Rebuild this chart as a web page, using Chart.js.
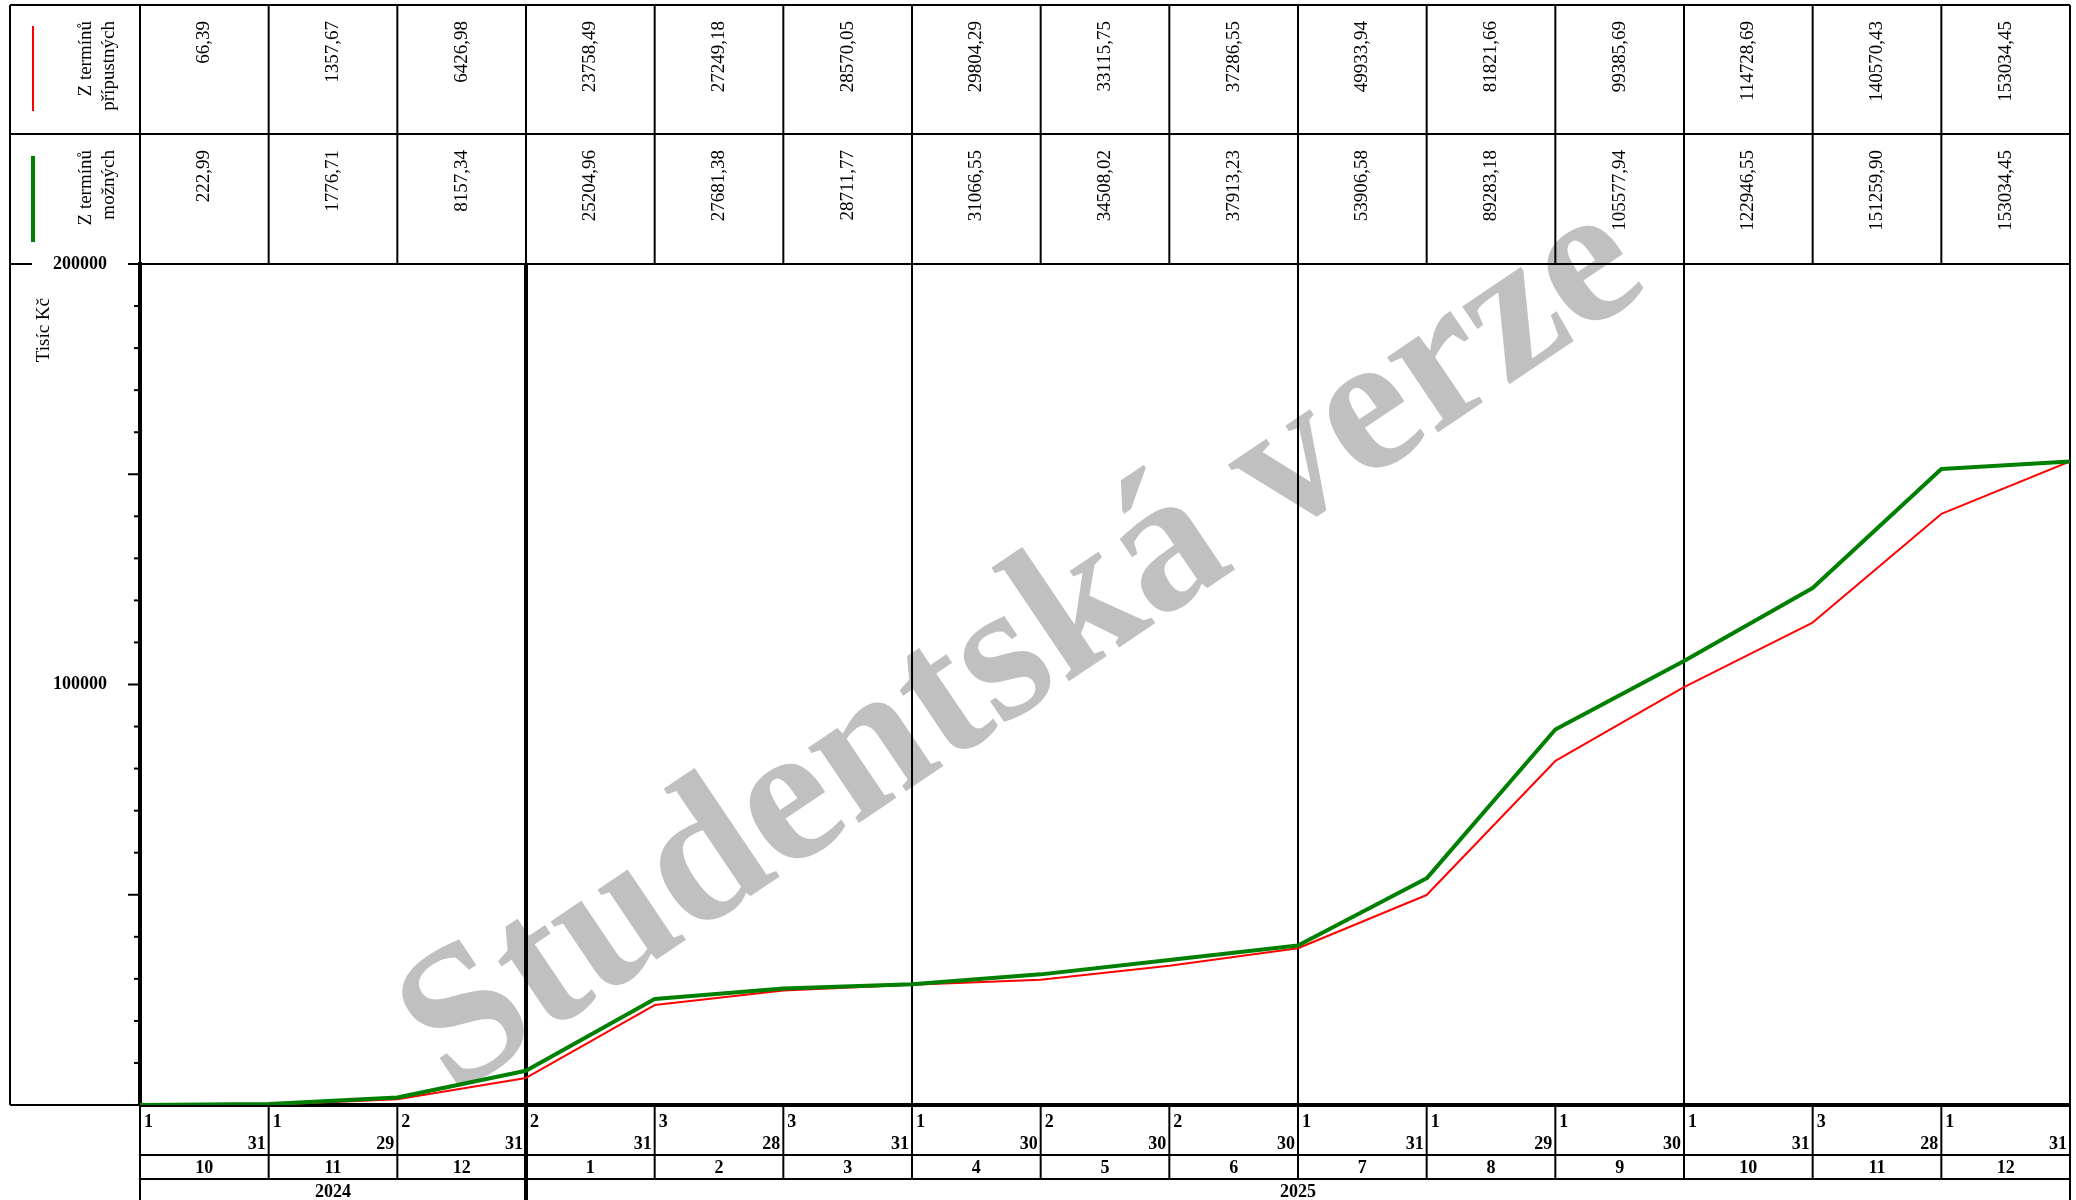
<!DOCTYPE html>
<html>
<head>
<meta charset="utf-8">
<script src="https://cdn.jsdelivr.net/npm/chart.js"></script>
<style>
  html, body { margin: 0; padding: 0; background: #fff; }
  #wrap { width: 2076px; height: 1200px; position: relative; }
</style>
</head>
<body>
<div id="wrap"><canvas id="c"></canvas></div>
<script>
// hodnoty z tabulky nad grafem (tisíc Kč, kumulativně)
const months = ['10', '11', '12', '1', '2', '3', '4', '5', '6', '7', '8', '9', '10', '11', '12'];
const startDays = ['1', '1', '2', '2', '3', '3', '1', '2', '2', '1', '1', '1', '1', '3', '1'];
const endDays = ['31', '29', '31', '31', '28', '31', '30', '30', '30', '31', '29', '30', '31', '28', '31'];
const yearLabels = ['2024', '2025'];
const yearSpans = [3, 12];
const startValue = 0;
const pripustne = [66.39, 1357.67, 6426.98, 23758.49, 27249.18, 28570.05, 29804.29, 33115.75, 37286.55, 49933.94, 81821.66, 99385.69, 114728.69, 140570.43, 153034.45];
const mozne = [222.99, 1776.71, 8157.34, 25204.96, 27681.38, 28711.77, 31066.55, 34508.02, 37913.23, 53906.58, 89283.18, 105577.94, 122946.55, 151259.90, 153034.45];
const yLabelTicks = [100000, 200000];

const SERIF = "'Liberation Serif', 'Times New Roman', serif";
const fmt = (v) => v.toFixed(2).replace('.', ',');
const toPoints = (arr) => [{ x: 0, y: startValue }].concat(arr.map((v, i) => ({ x: i + 1, y: v })));

function line(ctx, x1, y1, x2, y2, w) {
  ctx.lineWidth = w || 2;
  ctx.beginPath();
  ctx.moveTo(x1, y1);
  ctx.lineTo(x2, y2);
  ctx.stroke();
}

function vText(ctx, txt, x, yTop, font) {
  ctx.save();
  ctx.translate(x, yTop);
  ctx.rotate(-Math.PI / 2);
  ctx.font = font;
  ctx.textAlign = 'right';
  ctx.textBaseline = 'middle';
  ctx.fillText(txt, 0, 0);
  ctx.restore();
}

const TOP = 5, SPLIT = 134, DAY_B = 1155, MONTH_B = 1179, BOTTOM = 1200, LEFT = 10;

const watermark = {
  id: 'watermark',
  beforeDraw(chart) {
    const ctx = chart.ctx;
    ctx.save();
    ctx.translate(1024, 650);
    ctx.rotate(-34 * Math.PI / 180);
    ctx.font = 'bold 198px ' + SERIF;
    ctx.fillStyle = '#c0c0c0';
    ctx.textAlign = 'center';
    ctx.textBaseline = 'middle';
    ctx.fillText('Studentská verze', 0, 0);
    ctx.restore();
  }
};

const tables = {
  id: 'tables',
  beforeDatasetsDraw(chart) {
    const ctx = chart.ctx;
    const xs = chart.scales.x, ys = chart.scales.y;
    const a = chart.chartArea;
    const edge = (i) => xs.getPixelForValue(i);
    const n = months.length;
    const R = edge(n);
    ctx.save();
    ctx.strokeStyle = '#000';
    ctx.fillStyle = '#000';

    // horní tabulka
    line(ctx, LEFT, TOP, R, TOP);
    line(ctx, LEFT, SPLIT, R, SPLIT);
    line(ctx, LEFT, a.top, LEFT + 22, a.top);
    line(ctx, a.left, a.top, R, a.top);
    line(ctx, LEFT, TOP, LEFT, a.bottom);
    line(ctx, LEFT, a.bottom, a.left, a.bottom);
    for (let i = 0; i <= n; i++) line(ctx, edge(i), TOP, edge(i), a.top);

    // plocha grafu
    line(ctx, R, a.top, R, MONTH_B);
    [6, 9, 12].forEach((i) => line(ctx, edge(i), a.top, edge(i), a.bottom));

    // dolní tabulka
    for (let i = 0; i <= n; i++) line(ctx, edge(i), a.bottom, edge(i), MONTH_B);
    line(ctx, a.left, DAY_B, R, DAY_B);
    line(ctx, a.left, MONTH_B, R, MONTH_B);
    let acc = 0;
    line(ctx, edge(0), MONTH_B, edge(0), BOTTOM);
    yearSpans.forEach((s) => { acc += s; line(ctx, edge(acc), MONTH_B, edge(acc), BOTTOM); });
    line(ctx, edge(yearSpans[0]), a.top, edge(yearSpans[0]), BOTTOM, 4);

    // hodnoty v záhlaví
    const valFont = '19px ' + SERIF;
    for (let i = 0; i < n; i++) {
      const cx = (edge(i) + edge(i + 1)) / 2;
      vText(ctx, fmt(pripustne[i]), cx, TOP + 16, valFont);
      vText(ctx, fmt(mozne[i]), cx, SPLIT + 16, valFont);
    }
    // legenda
    vText(ctx, 'Z termínů', 86, TOP + 16, valFont);
    vText(ctx, 'přípustných', 109, TOP + 16, valFont);
    vText(ctx, 'Z termínů', 86, SPLIT + 16, valFont);
    vText(ctx, 'možných', 109, SPLIT + 16, valFont);
    ctx.strokeStyle = '#ff0000';
    line(ctx, 33, TOP + 21, 33, TOP + 106, 2);
    ctx.strokeStyle = '#008000';
    line(ctx, 33, SPLIT + 22, 33, SPLIT + 108, 4);
    ctx.strokeStyle = '#000';

    // popis osy y
    vText(ctx, 'Tisíc Kč', 44, 298, '19px ' + SERIF);

    // značky na ose y
    ys.ticks.forEach((t) => {
      const yy = ys.getPixelForValue(t.value);
      const len = t.value % 50000 === 0 ? 12 : 6;
      line(ctx, a.left - len, yy, a.left, yy, 2);
    });

    // dny, měsíce, roky
    ctx.font = 'bold 18px ' + SERIF;
    ctx.textBaseline = 'alphabetic';
    for (let i = 0; i < n; i++) {
      ctx.textAlign = 'left';
      ctx.fillText(startDays[i], edge(i) + 4, a.bottom + 22);
      ctx.textAlign = 'right';
      ctx.fillText(endDays[i], edge(i + 1) - 3, DAY_B - 6);
      ctx.textAlign = 'center';
      ctx.fillText(months[i], (edge(i) + edge(i + 1)) / 2, MONTH_B - 6);
    }
    acc = 0;
    yearLabels.forEach((lbl, k) => {
      const x0 = edge(acc);
      acc += yearSpans[k];
      ctx.fillText(lbl, (x0 + edge(acc)) / 2, BOTTOM - 3);
    });

    // osa x
    line(ctx, a.left, a.bottom, R + 1, a.bottom, 4);
    ctx.restore();
  }
};

new Chart(document.getElementById('c'), {
  type: 'line',
  data: {
    datasets: [
      { label: 'Z termínů možných', data: toPoints(mozne), borderColor: '#008000', borderWidth: 4 },
      { label: 'Z termínů přípustných', data: toPoints(pripustne), borderColor: '#ff0000', borderWidth: 2 },
    ],
  },
  options: {
    responsive: true,
    maintainAspectRatio: false,
    devicePixelRatio: 1,
    animation: false,
    layout: { padding: { left: 0, top: 264, right: 6, bottom: 95 } },
    elements: { point: { radius: 0 }, line: { tension: 0, borderJoinStyle: 'round' } },
    plugins: { legend: { display: false }, tooltip: { enabled: false } },
    scales: {
      x: { type: 'linear', min: 0, max: months.length, display: false },
      y: {
        min: 0,
        max: 200000,
        afterFit: (s) => { s.width = 140; },
        grid: { drawOnChartArea: false, drawTicks: false },
        border: { display: true, color: '#000', width: 4 },
        ticks: {
          stepSize: 10000,
          autoSkip: false,
          padding: 33,
          color: '#000',
          font: { family: SERIF, size: 18, weight: 'bold' },
          callback: (v) => (yLabelTicks.includes(v) ? String(v) : ''),
        },
      },
    },
  },
  plugins: [watermark, tables],
});
</script>
</body>
</html>
